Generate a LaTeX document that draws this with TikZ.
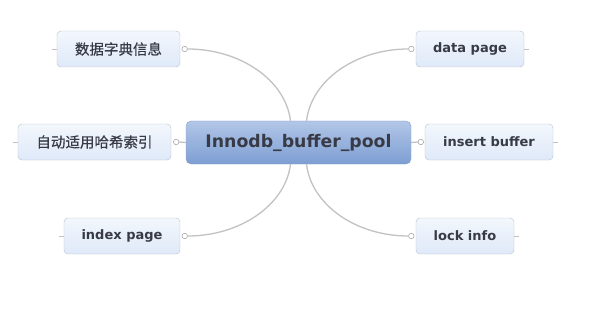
\documentclass[tikz,border=0pt]{standalone}
\usepackage{fontspec}
\setmainfont{DejaVu Sans}
\newfontfamily\cjk[FakeBold=0.5]{Noto Sans CJK SC}
\usetikzlibrary{calc}
\definecolor{leafA}{HTML}{F3F7FD}
\definecolor{leafB}{HTML}{DFE9F8}
\definecolor{leafline}{HTML}{B6C0CE}
\definecolor{rootA}{HTML}{B2C7E8}
\definecolor{rootB}{HTML}{7D9DD2}
\definecolor{rootline}{HTML}{8CA3C8}
\definecolor{txt}{HTML}{383B46}
\definecolor{conn}{HTML}{C2C2C2}
\definecolor{knobline}{HTML}{A8A8A8}
\tikzset{
  leaf/.style={draw=leafline, rounded corners=4pt, top color=leafA, bottom color=leafB,
    minimum height=36pt, inner sep=0pt, text=txt, font=\bfseries\fontsize{13}{15}\selectfont},
  cjkleaf/.style={leaf, font=\cjk\fontsize{14.5}{17}\selectfont},
  root/.style={draw=rootline, rounded corners=5pt, top color=rootA, bottom color=rootB,
    minimum width=225pt, minimum height=43pt, inner sep=0pt, text=txt,
    font=\bfseries\fontsize{17.3}{20}\selectfont},
  knob/.style={circle, draw=knobline, fill=white, line width=0.6pt, minimum size=5.5pt, inner sep=0pt},
  link/.style={draw=conn, line width=1.3pt},
  tickline/.style={draw=conn, line width=0.6pt}
}
\begin{document}
\begin{tikzpicture}[x=1pt,y=1pt]
\useasboundingbox (0,0) rectangle (591,319);
\node[root] (c) at (298.5,176.5) {Innodb\_buffer\_pool};
\node[cjkleaf, minimum width=123pt] (n1) at (118.5,270) {数据字典信息};
\node[leaf, minimum width=108pt] (n2) at (470,270) {data page};
\node[cjkleaf, minimum width=153pt] (n3) at (94.5,177) {自动适用哈希索引};
\node[leaf, minimum width=128pt] (n4) at (489,177) {insert buffer};
\node[leaf, minimum width=116pt] (n5) at (122,83) {index page};
\node[leaf, minimum width=98pt] (n6) at (465,83) {lock info};
% knobs
\node[knob] (k1) at ($(n1.east)+(4.5,0)$) {};
\node[knob] (k2) at ($(n2.west)+(-4.5,0)$) {};
\node[knob] (k3) at ($(n3.east)+(5,0)$) {};
\node[knob] (k4) at ($(n4.west)+(-4,0)$) {};
\node[knob] (k5) at ($(n5.east)+(4.5,0)$) {};
\node[knob] (k6) at ($(n6.west)+(-4.5,0)$) {};
\coordinate (ctl) at ($(c.north)+(-8,0)$);
\coordinate (ctr) at ($(c.north)+(8,0)$);
\coordinate (cbl) at ($(c.south)+(-8,0)$);
\coordinate (cbr) at ($(c.south)+(8,0)$);
% connectors
\draw[link] (k1.east) .. controls +(52,0) and +(-5,41) .. (ctl);
\draw[link] (k5.east) .. controls +(52,0) and +(-5,-41) .. (cbl);
\draw[link] (ctr) .. controls +(5,41) and +(-52,0) .. (k2.west);
\draw[link] (cbr) .. controls +(5,-41) and +(-52,0) .. (k6.west);
\draw[link] (k3.east) -- (c.west);
\draw[link] (c.east) -- (k4.west);
% outer ticks
\draw[tickline] (n1.west) -- +(-5,0);
\draw[tickline] (n3.west) -- +(-5,0);
\draw[tickline] (n5.west) -- +(-5,0);
\draw[tickline] (n2.east) -- +(5,0);
\draw[tickline] (n4.east) -- +(5,0);
\draw[tickline] (n6.east) -- +(5,0);
\end{tikzpicture}
\end{document}
